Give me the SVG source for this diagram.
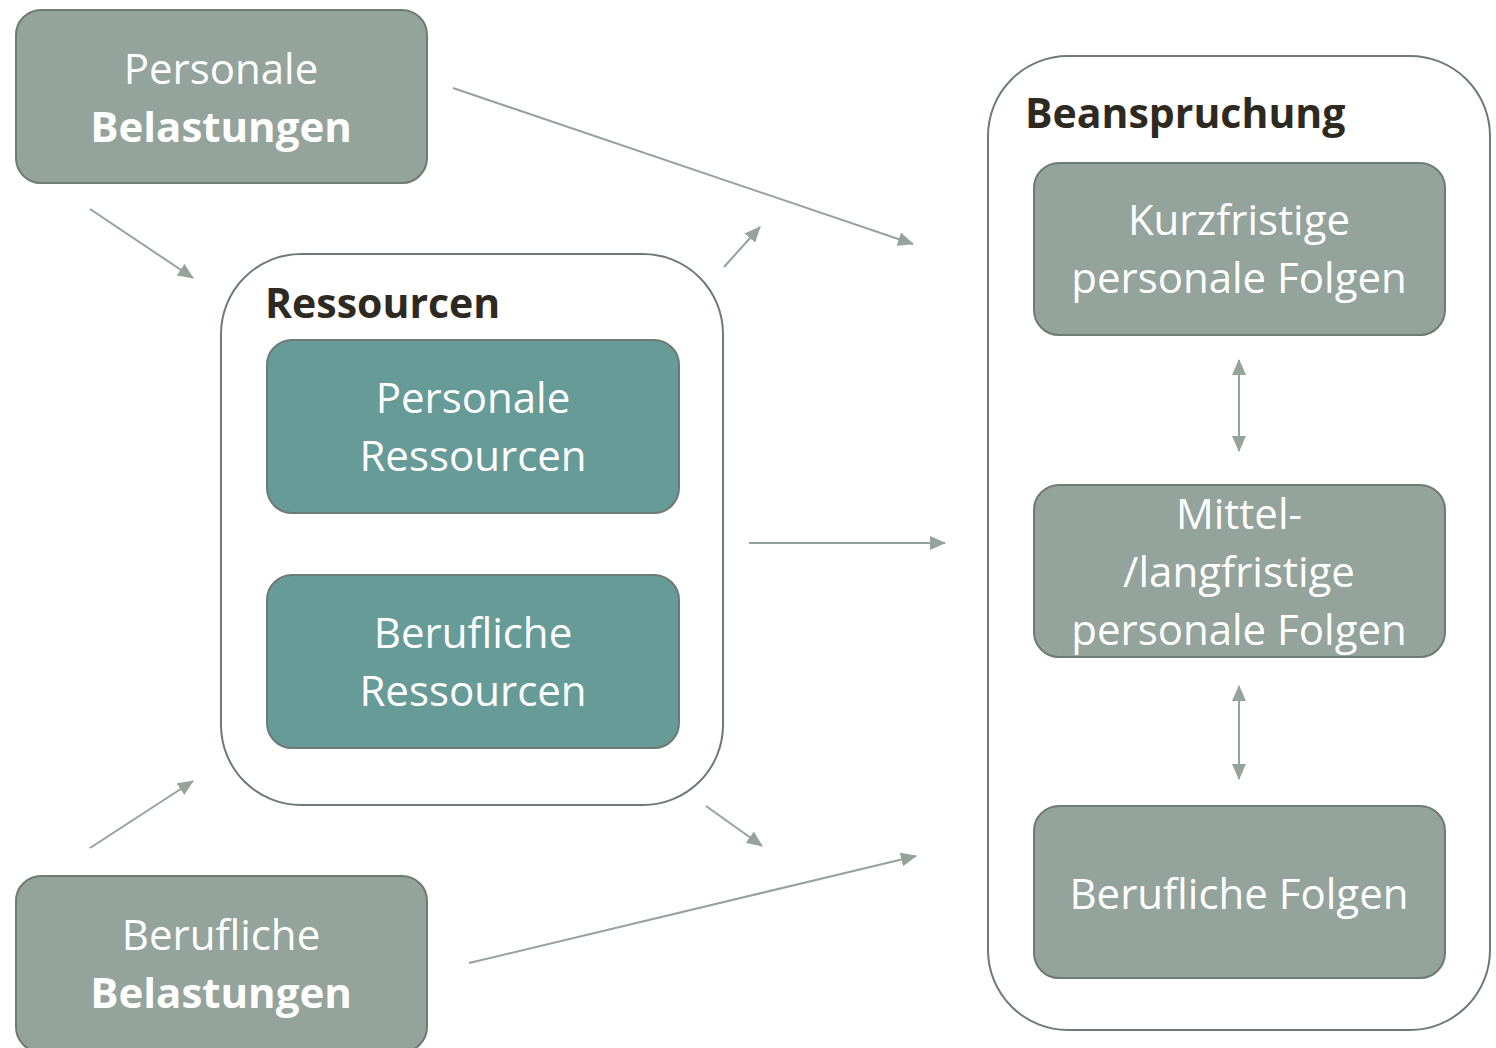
<svg xmlns="http://www.w3.org/2000/svg" width="1496" height="1048" viewBox="0 0 1496 1048">
<style>
.n{fill:#94A39B;stroke:#6E7B74;stroke-width:2}
.t{fill:#679B98;stroke:#6E7B74;stroke-width:2}
.c{fill:#FFFFFF;stroke:#6E7B74;stroke-width:2}
.w{fill:#FFFFFF;font-family:"Open Sans","Noto Sans",sans-serif;font-size:42px;text-anchor:middle}
.b{font-weight:bold}
.h{fill:#2E2A22;font-family:"Open Sans","Noto Sans",sans-serif;font-size:41px;font-weight:bold}
.a{stroke:#94A39B;stroke-width:2;fill:none;marker-end:url(#ah)}
.d{stroke:#94A39B;stroke-width:2;fill:none;marker-end:url(#ah);marker-start:url(#as)}
</style>
<defs>
<marker id="ah" markerWidth="8" markerHeight="7" refX="7.5" refY="3.5" orient="auto" markerUnits="strokeWidth"><path d="M0,0 L8,3.5 L0,7 z" fill="#94A39B"/></marker>
<marker id="as" markerWidth="8" markerHeight="7" refX="0.5" refY="3.5" orient="auto" markerUnits="strokeWidth"><path d="M8,0 L0,3.5 L8,7 z" fill="#94A39B"/></marker>
</defs>
<g id="ressourcen">
<rect class="c" x="221" y="254" width="502" height="551" rx="80"/>
<text class="h" x="265" y="318">Ressourcen</text>
</g>
<g id="beanspruchung">
<rect class="c" x="988" y="56" width="502" height="974" rx="80"/>
<text class="h" x="1025" y="128">Beanspruchung</text>
</g>
<g id="personale-belastungen">
<rect class="n" x="16" y="10" width="411" height="173" rx="25"/>
<text class="w" x="221" y="84">Personale</text>
<text class="w b" x="221" y="142">Belastungen</text>
</g>
<g id="berufliche-belastungen">
<rect class="n" x="16" y="876" width="411" height="176" rx="25"/>
<text class="w" x="221" y="950">Berufliche</text>
<text class="w b" x="221" y="1008">Belastungen</text>
</g>
<g id="personale-ressourcen">
<rect class="t" x="267" y="340" width="412" height="173" rx="25"/>
<text class="w" x="473" y="413">Personale</text>
<text class="w" x="473" y="471">Ressourcen</text>
</g>
<g id="berufliche-ressourcen">
<rect class="t" x="267" y="575" width="412" height="173" rx="25"/>
<text class="w" x="473" y="648">Berufliche</text>
<text class="w" x="473" y="706">Ressourcen</text>
</g>
<g id="kurzfristige">
<rect class="n" x="1034" y="163" width="411" height="172" rx="25"/>
<text class="w" x="1239" y="235">Kurzfristige</text>
<text class="w" x="1239" y="293">personale Folgen</text>
</g>
<g id="mittelfristige">
<rect class="n" x="1034" y="485" width="411" height="172" rx="25"/>
<text class="w" x="1239" y="529">Mittel-</text>
<text class="w" x="1239" y="587">/langfristige</text>
<text class="w" x="1239" y="645">personale Folgen</text>
</g>
<g id="berufliche-folgen">
<rect class="n" x="1034" y="806" width="411" height="172" rx="25"/>
<text class="w" x="1239" y="909">Berufliche Folgen</text>
</g>
<g id="connectors">
<line class="a" x1="90" y1="209" x2="193" y2="278"/>
<line class="a" x1="453" y1="88" x2="913" y2="244"/>
<line class="a" x1="724" y1="267" x2="760" y2="227"/>
<line class="a" x1="749" y1="543" x2="945" y2="543"/>
<line class="a" x1="90" y1="848" x2="193" y2="781"/>
<line class="a" x1="706" y1="806" x2="762" y2="846"/>
<line class="a" x1="469" y1="963" x2="916" y2="856"/>
<line class="d" x1="1239" y1="360" x2="1239" y2="451"/>
<line class="d" x1="1239" y1="686" x2="1239" y2="779"/>
</g>
</svg>
